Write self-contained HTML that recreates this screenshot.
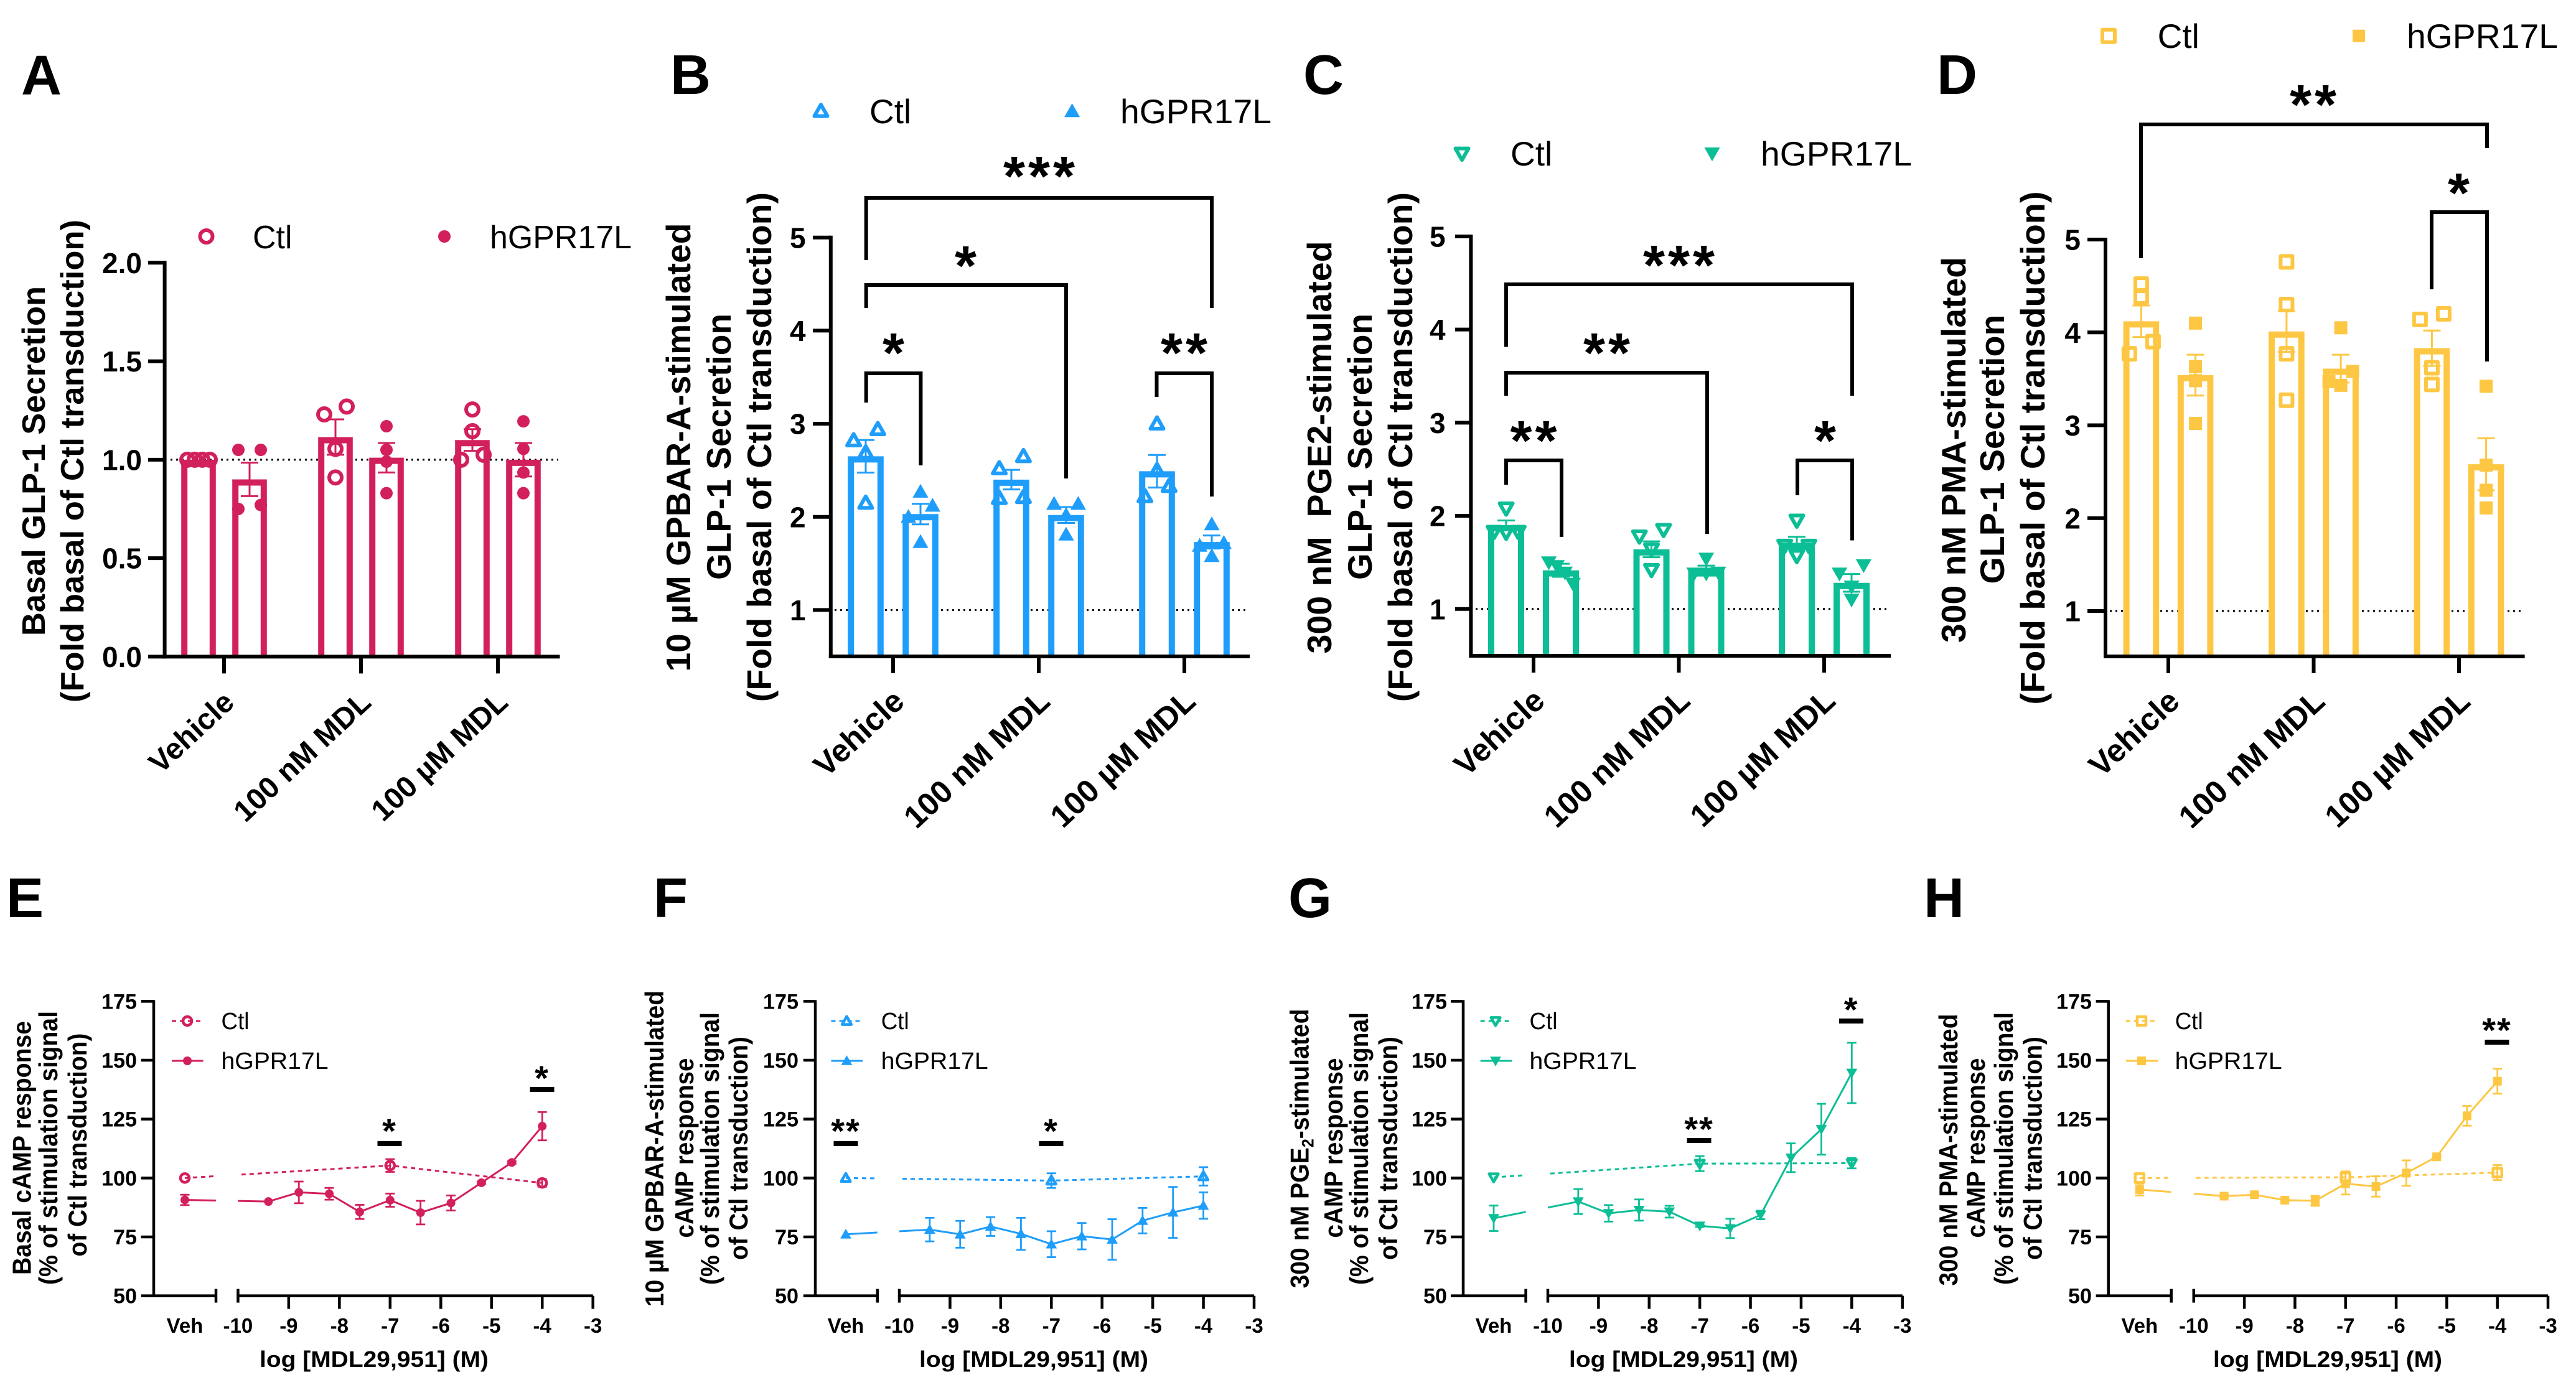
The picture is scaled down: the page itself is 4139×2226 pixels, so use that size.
<!DOCTYPE html>
<html lang="en">
<head>
<meta charset="utf-8">
<title>GLP-1 secretion and cAMP response panels</title>
<style>
html,body{margin:0;padding:0;background:#fff;}
svg{display:block;}
text{font-family:"Liberation Sans",sans-serif;fill:#000;}
.b{font-weight:bold;}
.r{font-weight:normal;}
.letter{font-weight:bold;font-size:90px;}
.star{font-weight:bold;font-size:90px;letter-spacing:5px;text-anchor:middle;}
.star-s{font-weight:bold;font-size:56px;letter-spacing:2px;text-anchor:middle;}
.t1{font-weight:bold;text-anchor:middle;}
.brk{fill:none;stroke:#000;stroke-width:6;}
.sigbar{fill:#000;}
</style>
</head>
<body>
<svg id="figure" xmlns="http://www.w3.org/2000/svg" width="4139" height="2226" viewBox="0 0 4139 2226">
<rect width="4139" height="2226" fill="#fff"/>

<g id="charts"></g>

<!-- panel letters -->
<text class="letter" x="34" y="152">A</text>
<text class="letter" x="1077" y="151">B</text>
<text class="letter" x="2094" y="151">C</text>
<text class="letter" x="3112" y="151">D</text>
<text class="letter" x="10" y="1474">E</text>
<text class="letter" x="1050" y="1474">F</text>
<text class="letter" x="2070" y="1474">G</text>
<text class="letter" x="3091" y="1474">H</text>

<!-- top-row legends -->
<text class="r" x="406" y="399" font-size="52">Ctl</text>
<text class="r" x="787" y="399" font-size="52" textLength="228" lengthAdjust="spacingAndGlyphs">hGPR17L</text>
<text class="r" x="1397" y="198" font-size="55">Ctl</text>
<text class="r" x="1800" y="198" font-size="55" textLength="243" lengthAdjust="spacingAndGlyphs">hGPR17L</text>
<text class="r" x="2427" y="266" font-size="55">Ctl</text>
<text class="r" x="2829" y="266" font-size="55" textLength="243" lengthAdjust="spacingAndGlyphs">hGPR17L</text>
<text class="r" x="3466.6" y="77" font-size="55">Ctl</text>
<text class="r" x="3867" y="77" font-size="55" textLength="243" lengthAdjust="spacingAndGlyphs">hGPR17L</text>

<!-- top-row y titles -->
<text class="t1" font-size="52" transform="translate(72,741) rotate(-90)" textLength="562" lengthAdjust="spacingAndGlyphs">Basal GLP-1 Secretion</text>
<text class="t1" font-size="52" transform="translate(134,741) rotate(-90)" textLength="776" lengthAdjust="spacingAndGlyphs">(Fold basal of Ctl transduction)</text>

<text class="t1" font-size="55" transform="translate(1109,719) rotate(-90)" textLength="721" lengthAdjust="spacingAndGlyphs">10 µM GPBAR-A-stimulated</text>
<text class="t1" font-size="55" transform="translate(1174,718) rotate(-90)" textLength="428" lengthAdjust="spacingAndGlyphs">GLP-1 Secretion</text>
<text class="t1" font-size="55" transform="translate(1239,718.6) rotate(-90)" textLength="819" lengthAdjust="spacingAndGlyphs">(Fold basal of Ctl transduction)</text>

<text class="t1" font-size="55" transform="translate(2139,719) rotate(-90)" textLength="663" lengthAdjust="spacingAndGlyphs" xml:space="preserve">300 nM  PGE2-stimulated</text>
<text class="t1" font-size="55" transform="translate(2204,718) rotate(-90)" textLength="428" lengthAdjust="spacingAndGlyphs">GLP-1 Secretion</text>
<text class="t1" font-size="55" transform="translate(2269,718.6) rotate(-90)" textLength="819" lengthAdjust="spacingAndGlyphs">(Fold basal of Ctl transduction)</text>

<text class="t1" font-size="55" transform="translate(3158,723) rotate(-90)" textLength="620" lengthAdjust="spacingAndGlyphs">300 nM PMA-stimulated</text>
<text class="t1" font-size="55" transform="translate(3220,722) rotate(-90)" textLength="433" lengthAdjust="spacingAndGlyphs">GLP-1 Secretion</text>
<text class="t1" font-size="55" transform="translate(3285,720) rotate(-90)" textLength="825" lengthAdjust="spacingAndGlyphs">(Fold basal of Ctl transduction)</text>

<!-- significance brackets -->
<path class="brk" d="M1391.7 418V318H1947V495"/>
<path class="brk" d="M1391.7 495V458H1713V769"/>
<path class="brk" d="M1391.7 647V600H1479.4V748"/>
<path class="brk" d="M1858.5 638V600H1947V798"/>
<text class="star" x="1672" y="314">***</text>
<text class="star" x="1554" y="458">*</text>
<text class="star" x="1438" y="598">*</text>
<text class="star" x="1905" y="598">**</text>

<path class="brk" d="M2420 557.5V457H2976V636"/>
<path class="brk" d="M2420 636V599H2743V858"/>
<path class="brk" d="M2420 779V740H2509V863"/>
<path class="brk" d="M2888 796V740H2976V868.5"/>
<text class="star" x="2700" y="457">***</text>
<text class="star" x="2584" y="598">**</text>
<text class="star" x="2466.5" y="739">**</text>
<text class="star" x="2935" y="739">*</text>

<path class="brk" d="M3440 415V200H3996V238"/>
<path class="brk" d="M3907 465V341H3996V581"/>
<text class="star" x="3719" y="199">**</text>
<text class="star" x="3953" y="341">*</text>

<!-- bottom-row y titles -->
<text class="t1" font-size="42" transform="translate(49.3,1845) rotate(-90)" textLength="408" lengthAdjust="spacingAndGlyphs">Basal cAMP response</text>
<text class="t1" font-size="42" transform="translate(92,1845) rotate(-90)" textLength="440" lengthAdjust="spacingAndGlyphs">(% of stimulation signal</text>
<text class="t1" font-size="42" transform="translate(139,1840) rotate(-90)" textLength="359" lengthAdjust="spacingAndGlyphs">of Ctl transduction)</text>

<text class="t1" font-size="42" transform="translate(1066,1846) rotate(-90)" textLength="508" lengthAdjust="spacingAndGlyphs">10 µM GPBAR-A-stimulated</text>
<text class="t1" font-size="42" transform="translate(1114,1845) rotate(-90)" textLength="289" lengthAdjust="spacingAndGlyphs">cAMP response</text>
<text class="t1" font-size="42" transform="translate(1155,1846) rotate(-90)" textLength="438" lengthAdjust="spacingAndGlyphs">(% of stimulation signal</text>
<text class="t1" font-size="42" transform="translate(1201,1845.5) rotate(-90)" textLength="359" lengthAdjust="spacingAndGlyphs">of Ctl transduction)</text>

<text class="t1" font-size="42" transform="translate(2102.7,1846) rotate(-90)" textLength="449" lengthAdjust="spacingAndGlyphs">300 nM PGE<tspan font-size="27" dy="8">2</tspan><tspan dy="-8">-stimulated</tspan></text>
<text class="t1" font-size="42" transform="translate(2157,1845) rotate(-90)" textLength="289" lengthAdjust="spacingAndGlyphs">cAMP response</text>
<text class="t1" font-size="42" transform="translate(2198,1846) rotate(-90)" textLength="438" lengthAdjust="spacingAndGlyphs">(% of stimulation signal</text>
<text class="t1" font-size="42" transform="translate(2245,1845.5) rotate(-90)" textLength="359" lengthAdjust="spacingAndGlyphs">of Ctl transduction)</text>

<text class="t1" font-size="42" transform="translate(3144.8,1848) rotate(-90)" textLength="437" lengthAdjust="spacingAndGlyphs">300 nM PMA-stimulated</text>
<text class="t1" font-size="42" transform="translate(3189,1845) rotate(-90)" textLength="289" lengthAdjust="spacingAndGlyphs">cAMP response</text>
<text class="t1" font-size="42" transform="translate(3233.8,1846) rotate(-90)" textLength="438" lengthAdjust="spacingAndGlyphs">(% of stimulation signal</text>
<text class="t1" font-size="42" transform="translate(3280.6,1845.5) rotate(-90)" textLength="359" lengthAdjust="spacingAndGlyphs">of Ctl transduction)</text>

<!-- bottom-row x titles -->
<text class="t1" font-size="36" x="601" y="2197" textLength="368" lengthAdjust="spacingAndGlyphs">log [MDL29,951] (M)</text>
<text class="t1" font-size="36" x="1661" y="2197" textLength="368" lengthAdjust="spacingAndGlyphs">log [MDL29,951] (M)</text>
<text class="t1" font-size="36" x="2705" y="2197" textLength="368" lengthAdjust="spacingAndGlyphs">log [MDL29,951] (M)</text>
<text class="t1" font-size="36" x="3740" y="2197" textLength="368" lengthAdjust="spacingAndGlyphs">log [MDL29,951] (M)</text>

<!-- bottom-row legends -->
<text class="r" x="355.5" y="1654" font-size="38" textLength="45" lengthAdjust="spacingAndGlyphs">Ctl</text>
<text class="r" x="355.5" y="1718" font-size="38" textLength="172" lengthAdjust="spacingAndGlyphs">hGPR17L</text>
<text class="r" x="1415.7" y="1654" font-size="38" textLength="45" lengthAdjust="spacingAndGlyphs">Ctl</text>
<text class="r" x="1415.7" y="1718" font-size="38" textLength="172" lengthAdjust="spacingAndGlyphs">hGPR17L</text>
<text class="r" x="2457.5" y="1654" font-size="38" textLength="45" lengthAdjust="spacingAndGlyphs">Ctl</text>
<text class="r" x="2457.5" y="1718" font-size="38" textLength="172" lengthAdjust="spacingAndGlyphs">hGPR17L</text>
<text class="r" x="3494.7" y="1654" font-size="38" textLength="45" lengthAdjust="spacingAndGlyphs">Ctl</text>
<text class="r" x="3494.7" y="1718" font-size="38" textLength="172" lengthAdjust="spacingAndGlyphs">hGPR17L</text>

<!-- bottom-row significance marks -->
<text class="star-s" x="626" y="1837">*</text>
<rect class="sigbar" x="606.5" y="1834" width="39" height="8"/>
<text class="star-s" x="871" y="1752">*</text>
<rect class="sigbar" x="851.5" y="1747" width="39" height="8"/>
<text class="star-s" x="1359" y="1837">**</text>
<rect class="sigbar" x="1339.5" y="1834" width="39" height="8"/>
<text class="star-s" x="1689" y="1837">*</text>
<rect class="sigbar" x="1669.5" y="1834" width="39" height="8"/>
<text class="star-s" x="2730" y="1834">**</text>
<rect class="sigbar" x="2710.5" y="1829" width="39" height="8"/>
<text class="star-s" x="2974.6" y="1642">*</text>
<rect class="sigbar" x="2955" y="1637" width="39" height="8"/>
<text class="star-s" x="4012" y="1675">**</text>
<rect class="sigbar" x="3992.5" y="1671" width="39" height="8"/>
</svg>

<script>
/* ---------- bar chart data ---------- */
const barCategories = ['Vehicle', '100 nM MDL', '100 µM MDL'];
const barTicksA = [0, 0.5, 1, 1.5, 2];
const barTickLabelsA = ['0.0', '0.5', '1.0', '1.5', '2.0'];
const barTicksStim = [1, 2, 3, 4, 5];
const barTickLabelsStim = ['1', '2', '3', '4', '5'];

const meansACtl = [1.0, 1.115, 1.10];
const meansAGpr = [0.90, 1.01, 1.0];
const semACtl = [0, 0.09, 0.055];
const semAGpr = [0.085, 0.075, 0.085];
const pointsACtl = [[1, 1, 1, 1], [1.27, 1.23, 1.055, 0.91], [1.255, 1.145, 1.025, 1.0]];
const pointsAGpr = [[1.05, 1.05, 0.77, 0.75], [1.17, 1.05, 0.99, 0.83], [1.195, 1.055, 0.935, 0.83]];

const meansBCtl = [2.65, 2.40, 2.49];
const meansBGpr = [2.03, 2.02, 1.73];
const semBCtl = [0.175, 0.105, 0.175];
const semBGpr = [0.11, 0.085, 0.07];
const pointsBCtl = [[2.94, 2.82, 2.69, 2.15], [2.65, 2.52, 2.21, 2.2], [3.0, 2.5, 2.33, 2.22]];
const pointsBGpr = [[2.27, 2.12, 2.0, 1.73], [2.14, 2.14, 2.02, 1.81], [1.92, 1.72, 1.69, 1.58]];

const meansCCtl = [1.90, 1.64, 1.71];
const meansCGpr = [1.415, 1.415, 1.28];
const semCCtl = [0.05, 0.085, 0.065];
const semCGpr = [0.07, 0.05, 0.095];
const pointsCCtl = [[2.08, 1.83, 1.83, 1.82], [1.85, 1.78, 1.64, 1.42], [1.95, 1.68, 1.68, 1.57]];
const pointsCGpr = [[1.5, 1.46, 1.39, 1.27], [1.54, 1.39, 1.38, 1.38], [1.47, 1.38, 1.24, 1.1]];

const meansDCtl = [4.12, 4.01, 3.83];
const meansDGpr = [3.54, 3.61, 2.58];
const semDCtl = [0.17, 0.22, 0.19];
const semDGpr = [0.22, 0.15, 0.28];
const pointsDCtl = [[4.52, 4.38, 3.9, 3.77], [4.76, 4.30, 3.77, 3.27], [4.2, 4.14, 3.62, 3.44]];
const pointsDGpr = [[4.10, 3.63, 3.48, 3.02], [4.05, 3.58, 3.47, 3.43], [3.42, 2.57, 2.3, 2.11]];

/* ---------- dose-response data ---------- */
const doseTicks = [-10, -9, -8, -7, -6, -5, -4, -3];
const doseTickLabels = ['-10', '-9', '-8', '-7', '-6', '-5', '-4', '-3'];
const responseTicks = [50, 75, 100, 125, 150, 175];
const responseTickLabels = ['50', '75', '100', '125', '150', '175'];
const vehicleLabel = 'Veh';
const gprDoses = ['Veh', -9.4, -8.8, -8.2, -7.6, -7, -6.4, -5.8, -5.2, -4.6, -4];
const ctlDoses = ['Veh', -7, -4];

const gprE = [90.7, 90, 93.9, 93.3, 85.6, 90.6, 85.3, 89.4, 98, 106.6, 122];
const gprSemE = [2.2, 0, 4.6, 2.5, 3, 2.8, 5, 3.2, 0.5, 0.5, 6];
const ctlE = [100, 105.3, 97.9];
const ctlSemE = [0, 2.7, 1.6];

const gprF = [76.1, 78.1, 76.1, 79.4, 76.3, 71.9, 75.3, 73.9, 81.9, 85.4, 88.3];
const gprSemF = [0, 5, 5.7, 4, 6.8, 5.5, 5.6, 8.6, 5.4, 10.8, 5.6];
const ctlF = [100, 98.9, 100.7];
const ctlSemF = [0, 3.1, 3.9];

const gprG = [82.9, 90, 85, 86.4, 85.7, 79.7, 78.6, 84.3, 108.6, 120.7, 144.6];
const gprSemG = [5.4, 5.3, 3.5, 4.5, 2.5, 0.5, 4.1, 1.8, 6.1, 10.8, 12.8];
const ctlG = [100.3, 106.1, 106.3];
const ctlSemG = [0, 3.2, 2.2];

const gprH = [95.1, 92.3, 92.9, 90.6, 90.3, 97.6, 96.4, 102.1, 109, 126.4, 141.1];
const gprSemH = [2.5, 0.5, 0.5, 0.5, 2.1, 4.6, 4.3, 5.4, 0.5, 4.2, 5.3];
const ctlH = [100, 100.3, 102.3];
const ctlSemH = [0, 2.5, 3.2];

/* ---------- layout (geometry only) ---------- */
const barPanels = [
  {id:'a', color:'#D2205C', shape:'circle', ticks:barTicksA, tickLabels:barTickLabelsA,
   vA:0, pxA:1055.4, vB:2, pxB:422.3, base:1055.4, axisX:264.6, endX:899.5, tickL:238, labelR:228, labelSize:46,
   cat0:360, step:220, off:41, barW:55.6, dotX1:274, dotX2:897, swarmGap:13, swarmD:18, labelSizeX:48,
   labelDx:19, labelDy:77,
   ctlMeans:meansACtl, gprMeans:meansAGpr, ctlSem:semACtl, gprSem:semAGpr, ctlPts:pointsACtl, gprPts:pointsAGpr,
   legendY:380, legendCtlX:331.5, legendGprX:714},
  {id:'b', color:'#1E9DFB', shape:'up', ticks:barTicksStim, tickLabels:barTickLabelsStim,
   vA:1, pxA:980.4, vB:5, pxB:381.7, base:1055, axisX:1334.8, endX:2008, tickL:1306, labelR:1294.6, labelSize:46,
   cat0:1435, step:234, off:44, barW:57.6, dotX1:1341, dotX2:2001, swarmGap:20, swarmD:19.4, labelSizeX:51,
   labelDx:21, labelDy:76,
   ctlMeans:meansBCtl, gprMeans:meansBGpr, ctlSem:semBCtl, gprSem:semBGpr, ctlPts:pointsBCtl, gprPts:pointsBGpr,
   legendY:178.6, legendCtlX:1319, legendGprX:1722.6},
  {id:'c', color:'#0CBE96', shape:'down', ticks:barTicksStim, tickLabels:barTickLabelsStim,
   vA:1, pxA:978.7, vB:5, pxB:380, base:1054, axisX:2363.4, endX:3038, tickL:2338, labelR:2322.6, labelSize:46,
   cat0:2464, step:233.5, off:44, barW:58, dotX1:2371, dotX2:3031, swarmGap:20, swarmD:19.4, labelSizeX:51,
   labelDx:21, labelDy:76,
   ctlMeans:meansCCtl, gprMeans:meansCGpr, ctlSem:semCCtl, gprSem:semCGpr, ctlPts:pointsCCtl, gprPts:pointsCGpr,
   legendY:246.6, legendCtlX:2349, legendGprX:2751},
  {id:'d', color:'#FDC744', shape:'square', ticks:barTicksStim, tickLabels:barTickLabelsStim,
   vA:1, pxA:982, vB:5, pxB:385, base:1055, axisX:3383, endX:4056.6, tickL:3354, labelR:3343, labelSize:46,
   cat0:3484, step:233.5, off:43.6, barW:57.6, dotX1:3390, dotX2:4051, swarmGap:20, swarmD:19, labelSizeX:51,
   labelDx:21, labelDy:76,
   ctlMeans:meansDCtl, gprMeans:meansDGpr, ctlSem:semDCtl, gprSem:semDGpr, ctlPts:pointsDCtl, gprPts:pointsDGpr,
   legendY:57.7, legendCtlX:3388, legendGprX:3790}
];

const linePanels = [
  {id:'e', color:'#D2205C', shape:'circle', axisX:247, tickL:226.7, seg1:347, x10:382.4, x3:952.7, vehX:297, labelR:220,
   gpr:gprE, gprSem:gprSemE, ctl:ctlE, ctlSem:ctlSemE, legX1:276, legX2:326.5, legM:301},
  {id:'f', color:'#1E9DFB', shape:'up', axisX:1310, tickL:1290.8, seg1:1409.8, x10:1445, x3:2015, vehX:1359, labelR:1283,
   gpr:gprF, gprSem:gprSemF, ctl:ctlF, ctlSem:ctlSemF, legX1:1335.5, legX2:1386, legM:1360.5},
  {id:'g', color:'#0CBE96', shape:'down', axisX:2351, tickL:2331, seg1:2451.6, x10:2487, x3:3056.7, vehX:2400, labelR:2325,
   gpr:gprG, gprSem:gprSemG, ctl:ctlG, ctlSem:ctlSemG, legX1:2378.7, legX2:2429, legM:2403},
  {id:'h', color:'#FDC744', shape:'square', axisX:3387.7, tickL:3367.6, seg1:3488.7, x10:3524.8, x3:4094, vehX:3437.8, labelR:3361,
   gpr:gprH, gprSem:gprSemH, ctl:ctlH, ctlSem:ctlSemH, legX1:3415.8, legX2:3468, legM:3441}
];

/* ---------- drawing helpers ---------- */
const NS = 'http://www.w3.org/2000/svg';
const root = document.getElementById('charts');

function mk(parent, tag, attrs, name) {
  const el = document.createElementNS(NS, tag);
  for (const k in attrs) el.setAttribute(k, attrs[k]);
  
  
  parent.appendChild(el);
  return el;
}

function line(parent, x1, y1, x2, y2, color, w, name, dash) {
  const a = {x1:x1, y1:y1, x2:x2, y2:y2, stroke:color, 'stroke-width':w};
  if (dash) a['stroke-dasharray'] = dash;
  return mk(parent, 'line', a, name);
}

function label(parent, x, y, str, size, anchor, name) {
  const el = mk(parent, 'text', {x:x, y:y, 'font-size':size, 'font-weight':'bold', 'text-anchor':anchor}, name);
  el.textContent = str;
  return el;
}

function marker(parent, shape, cx, cy, r, color, open, sw, name) {
  const style = open ? {fill:'none', stroke:color, 'stroke-width':sw, 'stroke-linejoin':'round'} : {fill:color};
  if (shape === 'circle') return mk(parent, 'circle', Object.assign({cx:cx, cy:cy, r:r}, style), name);
  if (shape === 'square') return mk(parent, 'rect', Object.assign({x:cx - r, y:cy - r, width:2 * r, height:2 * r}, style), name);
  const s = shape === 'up' ? 1 : -1;
  const pts = [[cx, cy - s * r * 1.05], [cx + r * 1.05, cy + s * r * 0.8], [cx - r * 1.05, cy + s * r * 0.8]];
  return mk(parent, 'polygon', Object.assign({points: pts.map(p => p.join(',')).join(' ')}, style), name);
}

function errorBar(parent, x, yTop, yBot, capW, color, w, name) {
  const g = mk(parent, 'g', {}, name);
  line(g, x, yTop, x, yBot, color, w, name + '-stem');
  line(g, x - capW / 2, yTop, x + capW / 2, yTop, color, w, name + '-cap-top');
  line(g, x - capW / 2, yBot, x + capW / 2, yBot, color, w, name + '-cap-bottom');
}

/* group nearby replicate values and spread them sideways, as a scatter-dot bar plot does */
function swarm(values, yOf, gap, d) {
  const sorted = values.slice().sort((a, b) => b - a);
  const out = [];
  let group = [];
  const flush = () => {
    const n = group.length;
    const offs = n === 1 ? [0] : n === 2 ? [d, -d] : n === 3 ? [d, -d, 0] : [-d, -d / 3, d / 3, d];
    group.forEach((v, i) => out.push({v: v, dx: offs[i % offs.length]}));
    group = [];
  };
  sorted.forEach(v => {
    if (group.length && yOf(v) - yOf(group[group.length - 1]) >= gap) flush();
    group.push(v);
  });
  flush();
  return out;
}

/* ---------- bar panels ---------- */
function drawBarPanel(p) {
  const g = mk(root, 'g', {}, 'bar-chart-' + p.id);
  const k = (p.pxB - p.pxA) / (p.vB - p.vA);
  const yOf = v => p.pxA + (v - p.vA) * k;
  const xCat = i => p.cat0 + i * p.step;

  const refY = yOf(1);
  line(g, p.dotX1, refY, p.dotX2, refY, '#000', 3, 'reference-line-' + p.id, '3 6');

  const groups = [
    {key:'ctl', means:p.ctlMeans, sem:p.ctlSem, pts:p.ctlPts, sign:-1, open:true},
    {key:'hgpr17l', means:p.gprMeans, sem:p.gprSem, pts:p.gprPts, sign:1, open:false}
  ];
  const sw = 10;
  groups.forEach(s => {
    s.means.forEach((m, i) => {
      const cx = xCat(i) + s.sign * p.off;
      const top = yOf(m);
      const n = 'bar-' + p.id + '-' + s.key + '-' + (i + 1);
      const xl = cx - p.barW / 2 + sw / 2;
      const xr = cx + p.barW / 2 - sw / 2;
      const yt = top + sw / 2;
      mk(g, 'path', {d:'M' + xl + ' ' + p.base + 'V' + yt + 'H' + xr + 'V' + p.base,
        fill:'#fff', stroke:p.color, 'stroke-width':sw, 'stroke-linejoin':'miter'}, n);
      if (s.sem[i] > 0) errorBar(g, cx, yOf(m + s.sem[i]), yOf(m - s.sem[i]), 28, p.color, 3, 'error-bar-' + p.id + '-' + s.key + '-' + (i + 1));
      swarm(s.pts[i], yOf, p.swarmGap, p.swarmD).forEach((pt, j) => {
        const r = s.open ? (p.shape === 'square' ? 9.5 : 10) : (p.shape === 'circle' ? 10 : (p.shape === 'square' ? 10.5 : 12));
        marker(g, p.shape, cx + pt.dx, yOf(pt.v), r, p.color, s.open, 6, 'point-' + p.id + '-' + s.key + '-' + (i + 1) + '-' + (j + 1));
      });
    });
  });

  /* axes */
  line(g, p.axisX, yOf(p.ticks[p.ticks.length - 1]) - 3, p.axisX, p.base + 3, '#000', 6, 'y-axis-' + p.id);
  line(g, p.axisX - 3, p.base, p.endX, p.base, '#000', 6, 'x-axis-' + p.id);
  p.ticks.forEach((t, i) => {
    const y = yOf(t);
    line(g, p.tickL, y, p.axisX, y, '#000', 6, 'y-tick-' + p.id + '-' + t);
    label(g, p.labelR, y + p.labelSize * 0.36, p.tickLabels[i], p.labelSize, 'end', 'y-tick-label-' + p.id + '-' + t);
  });
  barCategories.forEach((c, i) => {
    const x = xCat(i);
    line(g, x, p.base, x, p.base + 27, '#000', 6, 'x-tick-' + p.id + '-' + (i + 1));
    const el = label(g, 0, 0, c, p.labelSizeX, 'end', 'x-tick-label-' + p.id + '-' + (i + 1));
    el.setAttribute('transform', 'translate(' + (x + p.labelDx) + ',' + (p.base + p.labelDy) + ') rotate(-43)');
  });

  /* legend marks */
  marker(g, p.shape, p.legendCtlX, p.legendY, 10, p.color, true, 6, 'legend-marker-ctl-' + p.id);
  marker(g, p.shape, p.legendGprX, p.legendY, p.shape === 'circle' || p.shape === 'square' ? 10 : 12, p.color, false, 0, 'legend-marker-hgpr17l-' + p.id);
}

/* ---------- dose-response panels ---------- */
const yLow = 2082.6, yHigh = 1609.4;
function drawLinePanel(p) {
  const g = mk(root, 'g', {}, 'dose-response-chart-' + p.id);
  const yOf = v => yLow + (v - responseTicks[0]) * (yHigh - yLow) / (responseTicks[responseTicks.length - 1] - responseTicks[0]);
  const xOf = d => d === vehicleLabel ? p.vehX : p.x10 + (d - doseTicks[0]) * (p.x3 - p.x10) / (doseTicks[doseTicks.length - 1] - doseTicks[0]);

  const series = [
    {key:'ctl', doses:ctlDoses, vals:p.ctl, sem:p.ctlSem, open:true, dash:'7 6'},
    {key:'hgpr17l', doses:gprDoses, vals:p.gpr, sem:p.gprSem, open:false, dash:null}
  ];
  series.forEach(s => {
    const a = {fill:'none', stroke:p.color, 'stroke-width':3,
      points: s.vals.map((v, i) => xOf(s.doses[i]) + ',' + yOf(v)).join(' ')};
    if (s.dash) a['stroke-dasharray'] = s.dash;
    mk(g, 'polyline', a, 'line-' + p.id + '-' + s.key);
  });
  mk(g, 'rect', {x:p.seg1, y:yHigh, width:p.x10 - p.seg1, height:yLow - yHigh - 14, fill:'#fff'}, 'axis-break-gap-' + p.id);

  series.forEach(s => {
    s.vals.forEach((v, i) => {
      const x = xOf(s.doses[i]);
      if (s.sem[i] > 0) errorBar(g, x, yOf(v + s.sem[i]), yOf(v - s.sem[i]), 15, p.color, 2.8, 'error-bar-' + p.id + '-' + s.key + '-' + i);
      const r = s.open ? 7 : (p.shape === 'circle' ? 7 : (p.shape === 'square' ? 7 : 8.5));
      marker(g, p.shape, x, yOf(v), r, p.color, s.open, 4.5, 'point-' + p.id + '-' + s.key + '-' + i);
    });
  });

  /* axes */
  line(g, p.axisX, yHigh - 2, p.axisX, yLow + 2, '#000', 4.5, 'y-axis-' + p.id);
  line(g, p.axisX - 2, yLow, p.seg1, yLow, '#000', 4.5, 'x-axis-vehicle-segment-' + p.id);
  line(g, p.x10, yLow, p.x3, yLow, '#000', 4.5, 'x-axis-dose-segment-' + p.id);
  line(g, p.seg1, yLow - 11, p.seg1, yLow + 11, '#000', 4.5, 'x-axis-break-cap-left-' + p.id);
  line(g, p.x10, yLow - 11, p.x10, yLow + 11, '#000', 4.5, 'x-axis-break-cap-right-' + p.id);
  responseTicks.forEach((t, i) => {
    line(g, p.tickL, yOf(t), p.axisX, yOf(t), '#000', 4.5, 'y-tick-' + p.id + '-' + t);
    const el = label(g, p.labelR, yOf(t) + 12, responseTickLabels[i], 34, 'end', 'y-tick-label-' + p.id + '-' + t);
    el.setAttribute('textLength', t < 100 ? 38 : 57);
    el.setAttribute('lengthAdjust', 'spacingAndGlyphs');
  });
  doseTicks.forEach((d, i) => {
    const x = xOf(d);
    if (i > 0) line(g, x, yLow, x, yLow + 21, '#000', 4.5, 'x-tick-' + p.id + '-' + d);
    label(g, x, 2142, doseTickLabels[i], 33, 'middle', 'x-tick-label-' + p.id + '-' + d);
  });
  label(g, p.vehX, 2142, vehicleLabel, 33, 'middle', 'x-tick-label-' + p.id + '-veh');

  /* legend marks */
  line(g, p.legX1, 1641, p.legX2, 1641, p.color, 3, 'legend-line-ctl-' + p.id, '7 6');
  marker(g, p.shape, p.legM, 1641, 7, p.color, true, 4.5, 'legend-marker-ctl-' + p.id);
  line(g, p.legX1, 1705, p.legX2, 1705, p.color, 3, 'legend-line-hgpr17l-' + p.id);
  marker(g, p.shape, p.legM, 1705, p.shape === 'up' || p.shape === 'down' ? 8.5 : 7, p.color, false, 0, 'legend-marker-hgpr17l-' + p.id);
}

barPanels.forEach(drawBarPanel);
linePanels.forEach(drawLinePanel);
</script>
</body>
</html>
